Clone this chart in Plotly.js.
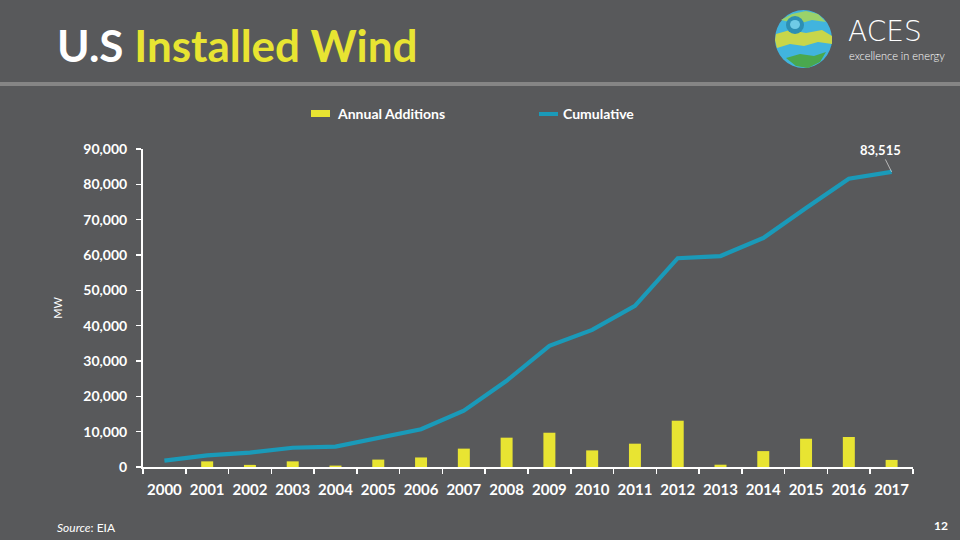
<!DOCTYPE html>
<html>
<head>
<meta charset="utf-8">
<script src="https://cdn.plot.ly/plotly-3.0.1.min.js"></script>
<style>html,body{margin:0;padding:0;background:#58595b;}#chart{width:960px;height:540px;}</style>
</head>
<body>
<div id="chart"></div>
<script>
var years = ['2000','2001','2002','2003','2004','2005','2006','2007','2008','2009','2010','2011','2012','2013','2014','2015','2016','2017'];
var annualAdditions = [0, 1600, 600, 1600, 400, 2100, 2700, 5200, 8300, 9700, 4700, 6600, 13100, 650, 4500, 8000, 8500, 2000];
var cumulative = [1800, 3300, 4050, 5450, 5750, 8150, 10700, 15950, 24400, 34300, 38800, 45600, 59100, 59700, 64800, 73300, 81600, 83515];
var yTicks = [0, 10000, 20000, 30000, 40000, 50000, 60000, 70000, 80000, 90000];
var yTickLabels = ['0', '10,000', '20,000', '30,000', '40,000', '50,000', '60,000', '70,000', '80,000', '90,000'];
var lastLabel = '83,515';

var W = 960, H = 540;
var L = 143, R = 913, T = 149, B = 467;
function px(x){ return (x - L) / (R - L); }
function py(y){ return (B - y) / (B - T); }
function path(pts){
  return pts.map(function(p,i){ return (i ? 'L' : 'M') + px(p[0]).toFixed(5) + ',' + py(p[1]).toFixed(5); }).join(' ') + ' Z';
}

var YEL = '#e8e432', BLUE = '#1a9ab9', BG = '#58595b';

var traces = [
  {type:'bar', x: years, y: annualAdditions, name:'Annual Additions', marker:{color:YEL}, width:0.28, showlegend:false, hoverinfo:'skip'},
  {type:'scatter', mode:'lines', x: years, y: cumulative, name:'Cumulative', line:{color:BLUE, width:4.2}, showlegend:false, hoverinfo:'skip'}
];

var shapes = [
  {type:'line', xref:'paper', yref:'paper', x0:px(0), x1:px(960), y0:py(84), y1:py(84), line:{color:'#858585', width:4}},
  {type:'rect', xref:'paper', yref:'paper', x0:px(311), x1:px(330), y0:py(110), y1:py(117), fillcolor:YEL, line:{width:0}},
  {type:'line', xref:'paper', yref:'paper', x0:px(539), x1:px(558), y0:py(114), y1:py(114), line:{color:BLUE, width:4}},
  // logo
  {type:'circle', xref:'paper', yref:'paper', x0:px(775), x1:px(832), y0:py(68), y1:py(10), fillcolor:'#41b4de', line:{width:0}},
  {type:'path', xref:'paper', yref:'paper', path:path([[776,34],[790,30],[806,33],[822,30],[832,36],[832,44],[818,42],[804,46],[790,44],[777,48],[775,40]]), fillcolor:'#c8d64a', line:{width:0}},
  {type:'path', xref:'paper', yref:'paper', path:path([[786,58],[800,54],[814,56],[826,52],[820,62],[808,68],[796,66]]), fillcolor:'#4aa84e', line:{width:0}},
  {type:'path', xref:'paper', yref:'paper', path:path([[781,20],[792,14],[806,11],[818,14],[826,22],[812,20],[798,24]]), fillcolor:'#9ad26a', line:{width:0}},
  {type:'circle', xref:'paper', yref:'paper', x0:px(786), x1:px(804), y0:py(34), y1:py(16), fillcolor:'#2d8fb3', line:{width:0}},
  {type:'circle', xref:'paper', yref:'paper', x0:px(790), x1:px(800), y0:py(29), y1:py(20), fillcolor:'#6fcbe6', line:{width:0}}
];

var F = 'Lato, "Open Sans", sans-serif';
var annotations = [
  {xref:'paper', yref:'paper', x:px(335), y:py(113), xanchor:'left', yanchor:'middle', showarrow:false, text:'Annual Additions', font:{family:F, size:14, color:'#ffffff', weight:'bold'}},
  {xref:'paper', yref:'paper', x:px(561), y:py(113), xanchor:'left', yanchor:'middle', showarrow:false, text:'Cumulative', font:{family:F, size:14, color:'#ffffff', weight:'bold'}},
  {xref:'x', yref:'y', x: years.length-1, y: cumulative[cumulative.length-1], ax:-11, ay:-22, showarrow:true, arrowhead:0, arrowwidth:0.8, arrowcolor:'#d0d0d0', standoff:0, text:lastLabel, font:{family:F, size:13, color:'#ffffff', weight:'bold'}},
  {xref:'paper', yref:'paper', x:px(55), y:py(527), xanchor:'left', yanchor:'middle', showarrow:false, text:'<i>Source</i>: EIA', font:{family:F, size:12, color:'#ffffff'}},
  {xref:'paper', yref:'paper', x:px(950), y:py(525), xanchor:'right', yanchor:'middle', showarrow:false, text:'12', font:{family:F, size:12, color:'#ffffff', weight:'bold'}},
  {xref:'paper', yref:'paper', x:px(846), y:py(31), xanchor:'left', yanchor:'middle', showarrow:false, text:'ACES', font:{family:'"DejaVu Sans", sans-serif', size:28, color:'#ffffff', weight:200}},
  {xref:'paper', yref:'paper', x:px(847), y:py(55), xanchor:'left', yanchor:'middle', showarrow:false, text:'excellence in energy', font:{family:F, size:11, color:'#ffffff', weight:300}}
];

var layout = {
  width: W, height: H,
  paper_bgcolor: BG, plot_bgcolor: BG,
  margin: {l:L, r:W-R, t:T, b:H-B, pad:0},
  showlegend: false,
  title: {text:'U.S <span style="color:#e8e432">Installed Wind</span>', xref:'container', yref:'container', x:57/W, xanchor:'left', y:1-47/H, yanchor:'middle', font:{family:F, size:44, color:'#ffffff', weight:'bold'}},
  bargap: 0.72,
  xaxis: {type:'category', range:[-0.5, years.length-0.5], autorange:false, showgrid:false, zeroline:false, showline:true, linecolor:'#ffffff', linewidth:2, ticks:'outside', tickson:'boundaries', ticklen:5, tickcolor:'#ffffff', tickwidth:1.5, tickangle:0, tickfont:{family:F, size:15, color:'#ffffff', weight:'bold'}, ticklabelstandoff:8, fixedrange:true},
  yaxis: {range:[0,90000], autorange:false, showgrid:false, zeroline:false, showline:true, linecolor:'#ffffff', linewidth:2, ticks:'outside', ticklen:5, tickcolor:'#ffffff', tickwidth:1.5, tickvals:yTicks, ticktext:yTickLabels, tickfont:{family:F, size:14, color:'#ffffff', weight:'bold'}, ticklabelstandoff:6, title:{text:'MW', font:{family:F, size:11, color:'#ffffff'}, standoff:18}, fixedrange:true},
  shapes: shapes,
  annotations: annotations
};

Plotly.newPlot('chart', traces, layout, {staticPlot:true, displayModeBar:false});
</script>
</body>
</html>
